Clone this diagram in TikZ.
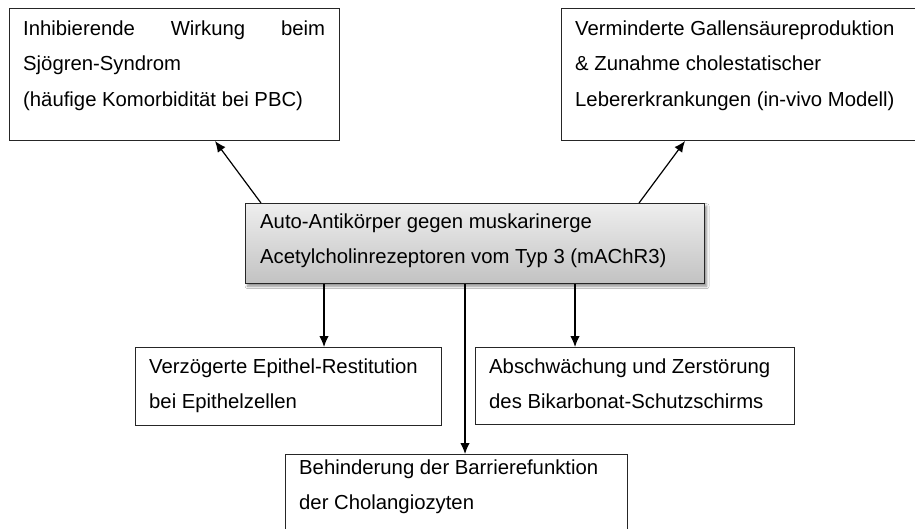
\documentclass[tikz,border=0pt]{standalone}
\usepackage{fontspec}
\setmainfont{Liberation Sans}
\usetikzlibrary{arrows.meta,calc,shadows.blur}
\definecolor{boxline}{HTML}{262626}
\definecolor{gradtop}{HTML}{EEEEEE}
\definecolor{gradbot}{HTML}{C2C2C2}
\tikzset{
  plainbox/.style={draw=boxline, line width=1pt, fill=white, rectangle, inner sep=0pt, anchor=north west},
  mainbox/.style={draw=boxline, line width=1.3pt, rectangle, inner sep=0pt, anchor=north west,
    top color=gradtop, bottom color=gradbot,
    blur shadow={shadow xshift=2pt, shadow yshift=-2.5pt, shadow blur radius=2.5pt, shadow opacity=45}},
  txt/.style={anchor=base west, inner sep=0pt, text=black, font=\fontsize{20.3}{24}\selectfont},
  arr/.style={line width=1.2pt, -{Latex[length=11pt,width=9.5pt]}},
}
\begin{document}
\begin{tikzpicture}[x=1pt,y=-1pt]
\useasboundingbox (0,0) rectangle (915,528);
\clip (0,0) rectangle (915,528);
\fill[white] (0,0) rectangle (915,528);

% boxes
\node[plainbox, minimum width=330pt, minimum height=132pt] (tl) at (9,8) {};
\node[plainbox, minimum width=370pt, minimum height=132pt] (tr) at (561,8) {};
\node[mainbox, minimum width=459pt, minimum height=80pt] (c) at (245,203) {};
\node[plainbox, minimum width=306pt, minimum height=78pt] (ll) at (135,347) {};
\node[plainbox, minimum width=319pt, minimum height=77pt] (lr) at (475,347) {};
\node[plainbox, minimum width=342pt, minimum height=90pt] (bt) at (285,454) {};

% texts
\node[txt] (tl1) at (23,35) {\makebox[302pt][s]{Inhibierende\hfill Wirkung\hfill beim}};
\node[txt] (tl2) at (23,70.5) {Sjögren-Syndrom};
\node[txt] (tl3) at (23,106) {(häufige Komorbidität bei PBC)};

\node[txt] (tr1) at (575,35) {Verminderte Gallensäureproduktion};
\node[txt] (tr2) at (575,70.5) {\& Zunahme cholestatischer};
\node[txt] (tr3) at (575,106) {Lebererkrankungen (in-vivo Modell)};

\node[txt] (c1) at (260,228) {Auto-Antikörper gegen muskarinerge};
\node[txt] (c2) at (260,263.5) {Acetylcholinrezeptoren vom Typ 3 (mAChR3)};

\node[txt] (ll1) at (149,373) {Verzögerte Epithel-Restitution};
\node[txt] (ll2) at (149,408) {bei Epithelzellen};

\node[txt] (lr1) at (489,373) {Abschwächung und Zerstörung};
\node[txt] (lr2) at (489,408) {des Bikarbonat-Schutzschirms};

\node[txt] (bt1) at (299,474) {Behinderung der Barrierefunktion};
\node[txt] (bt2) at (299,509) {der Cholangiozyten};

% connector anchor points on the central box
\coordinate (cTL) at ($(c.north west)+(16,0)$);
\coordinate (cTR) at ($(c.north west)+(394,0)$);
\coordinate (tlEnd) at ($(tl.south west)+(206,0)$);
\coordinate (trEnd) at ($(tr.south west)+(124,0)$);
\coordinate (cL) at ($(c.south west)+(79,0)$);
\coordinate (cM) at ($(c.south west)+(220,0)$);
\coordinate (cR) at ($(c.south west)+(330,0)$);

\draw[arr] (cTL) -- (tlEnd);
\draw[arr] (cTR) -- (trEnd);
\draw[arr] (cL) -- (cL |- ll.north);
\draw[arr] (cM) -- (cM |- bt.north);
\draw[arr] (cR) -- (cR |- lr.north);
\end{tikzpicture}
\end{document}
